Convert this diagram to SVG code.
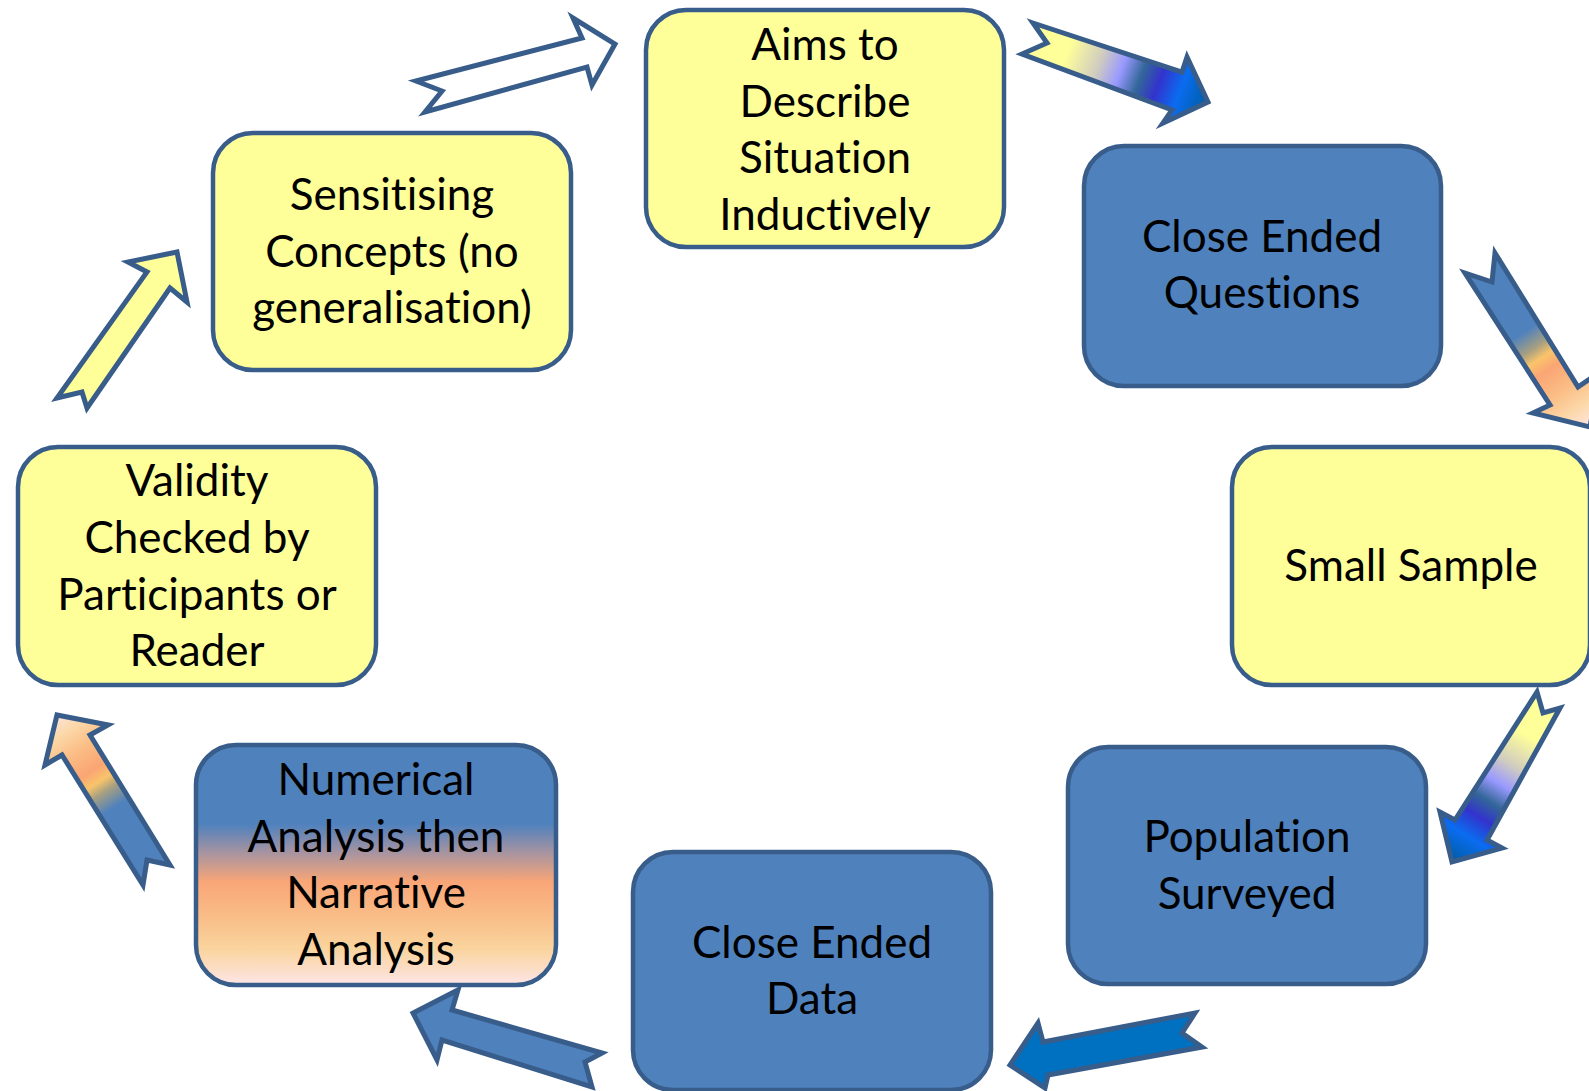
<svg xmlns="http://www.w3.org/2000/svg" width="1589" height="1091" viewBox="0 0 1589 1091">
<defs>
<linearGradient id="gYB2" gradientUnits="userSpaceOnUse" x1="1028" y1="38" x2="1205" y2="105">
<stop offset="0" stop-color="#FFFF99"/><stop offset="0.22" stop-color="#FFFF99"/><stop offset="0.4" stop-color="#D0CCC0"/><stop offset="0.52" stop-color="#9999FF"/><stop offset="0.63" stop-color="#336699"/><stop offset="0.73" stop-color="#3333CC"/><stop offset="0.85" stop-color="#0A6CF0"/><stop offset="1" stop-color="#005EA8"/>
</linearGradient>
<linearGradient id="gYB4" gradientUnits="userSpaceOnUse" x1="1548" y1="700" x2="1450" y2="858">
<stop offset="0" stop-color="#FFFF99"/><stop offset="0.22" stop-color="#FFFF99"/><stop offset="0.4" stop-color="#D0CCC0"/><stop offset="0.52" stop-color="#9999FF"/><stop offset="0.63" stop-color="#336699"/><stop offset="0.73" stop-color="#3333CC"/><stop offset="0.85" stop-color="#0A6CF0"/><stop offset="1" stop-color="#005EA8"/>
</linearGradient>
<linearGradient id="gBO3" gradientUnits="userSpaceOnUse" x1="1480" y1="263" x2="1588" y2="425">
<stop offset="0" stop-color="#4F81BD"/><stop offset="0.42" stop-color="#4F81BD"/><stop offset="0.52" stop-color="#A8A080"/><stop offset="0.58" stop-color="#F9C46A"/><stop offset="0.65" stop-color="#FBA574"/><stop offset="0.78" stop-color="#FBBD85"/><stop offset="0.9" stop-color="#FCD8A8"/><stop offset="1" stop-color="#FDE3DC"/>
</linearGradient>
<linearGradient id="gBO7" gradientUnits="userSpaceOnUse" x1="157" y1="873" x2="55" y2="717">
<stop offset="0" stop-color="#4F81BD"/><stop offset="0.42" stop-color="#4F81BD"/><stop offset="0.52" stop-color="#A8A080"/><stop offset="0.58" stop-color="#F9C46A"/><stop offset="0.65" stop-color="#FBA574"/><stop offset="0.78" stop-color="#FBBD85"/><stop offset="0.9" stop-color="#FCD8A8"/><stop offset="1" stop-color="#FDE3DC"/>
</linearGradient>
<linearGradient id="gNum" x1="0" y1="0" x2="0" y2="1">
<stop offset="0" stop-color="#4F81BD"/><stop offset="0.33" stop-color="#4F81BD"/><stop offset="0.45" stop-color="#A894A0"/><stop offset="0.57" stop-color="#F9A677"/><stop offset="0.72" stop-color="#F9BE88"/><stop offset="0.85" stop-color="#FAD49E"/><stop offset="1" stop-color="#FDE6E6"/>
</linearGradient>
</defs>
<style>
.box{stroke:#385D8A;stroke-width:4.5}
.blue{fill:#4F81BD}
.yellow{fill:#FFFF99}
.arr{stroke:#385D8A;stroke-width:5;stroke-linejoin:miter}
text{font-family:Lato,"Open Sans","Liberation Sans",sans-serif;font-size:44px;fill:#000;text-anchor:middle;font-variant-ligatures:none;font-feature-settings:"liga" 0}
</style>
<g id="connectors">
<polygon class="arr" fill="#FFFFFF" points="416,81 582,38 573,18 615,44 592,85 587,67 425,112 442,91"/>
<polygon class="arr" fill="url(#gYB2)" points="1033,23 1182,72 1187,57 1208,102 1163,123 1172,110 1022,54 1047,43"/>
<polygon class="arr" fill="url(#gBO3)" points="1495,253 1578,387 1600,372 1590,427 1533,413 1550,405 1465,273 1492,282"/>
<polygon class="arr" fill="url(#gYB4)" points="1537,692 1543,713 1560,708 1487,840 1502,848 1452,862 1440,812 1455,820"/>
<polygon class="arr" fill="#0070C0" points="1195,1013 1182,1033 1202,1047 1048,1075 1045,1088 1010,1065 1038,1023 1043,1042"/>
<polygon class="arr" fill="#4F81BD" points="602,1053 585,1062 592,1087 442,1040 437,1060 413,1013 458,990 452,1010"/>
<polygon class="arr" fill="url(#gBO7)" points="57,715 108,725 90,735 170,865 147,860 143,885 62,755 45,765"/>
<polygon class="arr" fill="#FFFF99" points="177,252 187,302 170,288 87,408 82,392 57,398 147,272 128,262"/>
</g>
<g id="node-aims">
<rect class="box yellow" x="646" y="10" width="358" height="237" rx="40"/>
<text x="825" y="60">Aims to</text><text x="825" y="117">Describe</text><text x="825" y="173">Situation</text><text x="825" y="230">Inductively</text>
</g>
<g id="node-ceq">
<rect class="box blue" x="1084" y="146" width="357" height="240" rx="40"/>
<text x="1262" y="252">Close Ended</text><text x="1262" y="308">Questions</text>
</g>
<g id="node-small">
<rect class="box yellow" x="1232" y="447" width="358" height="238" rx="40"/>
<text x="1411" y="581">Small Sample</text>
</g>
<g id="node-population">
<rect class="box blue" x="1068" y="747" width="358" height="237" rx="40"/>
<text x="1247" y="852">Population</text><text x="1247" y="909">Surveyed</text>
</g>
<g id="node-ced">
<rect class="box blue" x="633" y="852" width="358" height="238" rx="40"/>
<text x="812" y="958">Close Ended</text><text x="812" y="1014">Data</text>
</g>
<g id="node-numerical">
<rect class="box" fill="url(#gNum)" x="196" y="745" width="360" height="240" rx="40"/>
<text x="376" y="795">Numerical</text><text x="376" y="852">Analysis then</text><text x="376" y="908">Narrative</text><text x="376" y="965">Analysis</text>
</g>
<g id="node-validity">
<rect class="box yellow" x="18" y="447" width="358" height="238" rx="40"/>
<text x="197" y="496">Validity</text><text x="197" y="553">Checked by</text><text x="197" y="610">Participants or</text><text x="197" y="666">Reader</text>
</g>
<g id="node-sensitising">
<rect class="box yellow" x="213" y="133" width="358" height="237" rx="40"/>
<text x="392" y="210">Sensitising</text><text x="392" y="267">Concepts (no</text><text x="392" y="323">generalisation)</text>
</g>
</svg>
